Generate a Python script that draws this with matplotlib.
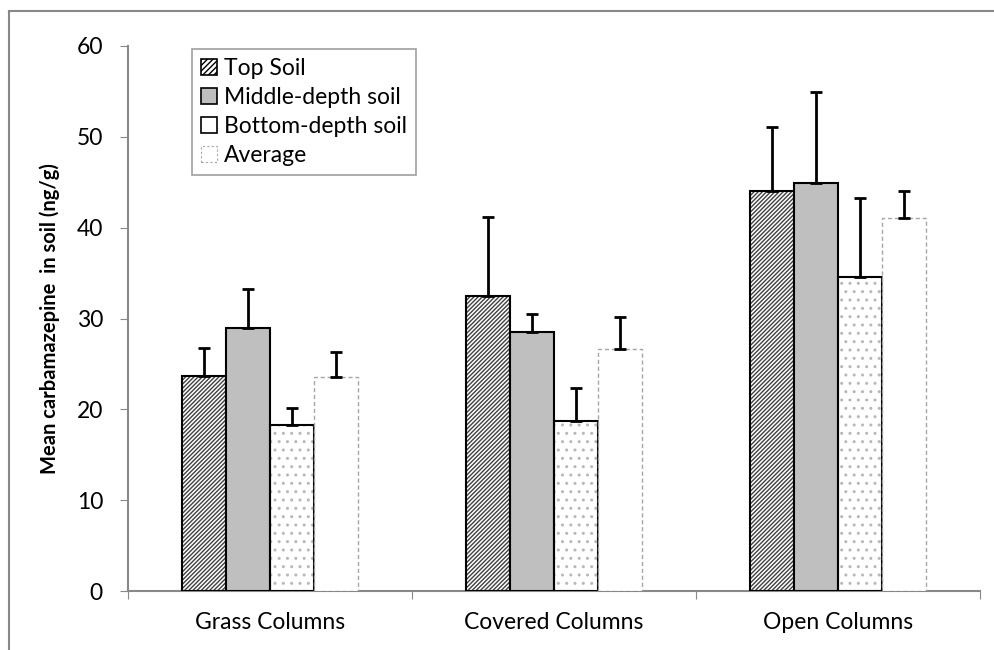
import numpy as np
import matplotlib.pyplot as plt
from matplotlib.lines import Line2D
from matplotlib.patches import Patch

plt.rcParams['font.family'] = ['Lato', 'DejaVu Sans']
plt.rcParams['hatch.linewidth'] = 1.0

groups = ['Grass Columns', 'Covered Columns', 'Open Columns']
series = ['Top Soil', 'Middle-depth soil', 'Bottom-depth soil', 'Average']
top_soil = [23.7, 32.5, 44.0]
middle_soil = [28.9, 28.5, 44.9]
bottom_soil = [18.3, 18.7, 34.6]
average = [23.6, 26.6, 41.1]
top_err = [3.0, 8.7, 7.1]
middle_err = [4.3, 2.0, 10.0]
bottom_err = [1.9, 3.7, 8.7]
average_err = [2.7, 3.6, 2.9]

values = [top_soil, middle_soil, bottom_soil, average]
errors = [top_err, middle_err, bottom_err, average_err]

fig = plt.figure(figsize=(9.95, 6.5), dpi=100)
ax = fig.add_axes([128/995, 59/650, 852/995, 545/650])

# outer frame (only top and left visible in the original)
fig.add_artist(Line2D([9/995, 9/995], [0, 1 - 11/650], color='#888888', lw=1.5))
fig.add_artist(Line2D([9/995, 1], [1 - 11/650, 1 - 11/650], color='#888888', lw=1.5))

x = np.arange(len(groups))
w = 0.155
for i, (v, e) in enumerate(zip(values, errors)):
    pos = x + (i - 1.5) * w
    if i == 0:
        ax.bar(pos, v, w, facecolor='white', edgecolor='#404040', hatch='////////', linewidth=0, zorder=2)
        ax.bar(pos, v, w, facecolor='none', edgecolor='black', linewidth=1.5, zorder=3)
    elif i == 1:
        ax.bar(pos, v, w, facecolor='#BFBFBF', edgecolor='black', linewidth=1.5, zorder=3)
    elif i == 2:
        ax.bar(pos, v, w, facecolor='white', edgecolor='#B8B8B8', hatch='..', linewidth=0, zorder=2)
        ax.bar(pos, v, w, facecolor='none', edgecolor='black', linewidth=1.5, zorder=3)
    else:
        ax.bar(pos, v, w, facecolor='white', edgecolor='#A6A6A6', linestyle=(0, (3, 2)),
               linewidth=1.0, zorder=3)
    ax.errorbar(pos, v, yerr=[np.zeros(len(e)), e], fmt='none', ecolor='black',
                elinewidth=2, capsize=4.5, capthick=2, zorder=4)

proxies = [
    Patch(facecolor='white', edgecolor='black', hatch='//////', linewidth=1.2),
    Patch(facecolor='#BFBFBF', edgecolor='black', linewidth=1.2),
    Patch(facecolor='white', edgecolor='black', linewidth=1.2),
    Patch(facecolor='white', edgecolor='#A6A6A6', linestyle=(0, (2, 2)), linewidth=0.8),
]
leg = ax.legend(proxies, series, loc='upper left', bbox_to_anchor=(64/852, 1 - 3/545),
                fontsize=16.5, frameon=True, fancybox=False, handlelength=0.7, handleheight=0.7,
                handletextpad=0.3, labelspacing=0.35, borderpad=0.4, borderaxespad=0)
leg.get_frame().set_edgecolor('#888888')
leg.get_frame().set_linewidth(1.2)

ax.set_xlim(-0.5, 2.5)
ax.set_ylim(0, 60)
ax.set_yticks(range(0, 61, 10))
ax.set_xticks([-0.5, 0.5, 1.5, 2.5], minor=False)
ax.set_xticklabels([])
ax.set_xticks(x, minor=True)
ax.set_xticklabels(groups, minor=True, fontsize=16.5)
ax.tick_params(axis='x', which='minor', length=0, pad=15)
ax.tick_params(axis='x', which='major', length=6, color='#888888', direction='out')
ax.tick_params(axis='y', length=6, color='#888888', labelsize=16.5, pad=12)
for s in ['top', 'right']:
    ax.spines[s].set_visible(False)
for s in ['left', 'bottom']:
    ax.spines[s].set_color('#888888')
    ax.spines[s].set_linewidth(1.5)
ax.set_ylabel('Mean carbamazepine  in soil (ng/g)', fontsize=14.5, fontweight='bold', labelpad=12)

fig.savefig('out.png', dpi=100)
